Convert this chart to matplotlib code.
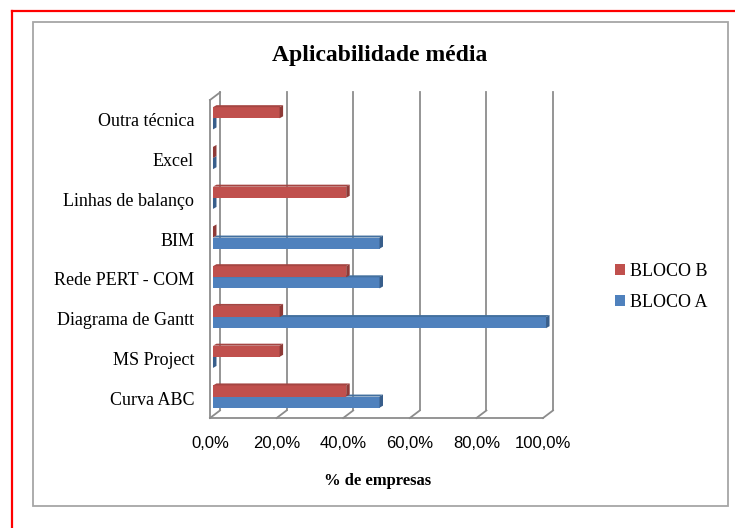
import matplotlib.pyplot as plt
from matplotlib.patches import Polygon, Patch, Rectangle
from matplotlib.lines import Line2D

# data, bottom to top as in the chart
categories = ["Curva ABC", "MS Project", "Diagrama de Gantt", "Rede PERT - COM",
              "BIM", "Linhas de balanço", "Excel", "Outra técnica"]
bloco_a = [50, 0, 100, 50, 50, 0, 0, 0]
bloco_b = [40, 20, 20, 40, 0, 40, 0, 20]
x_ticks = [0, 20, 40, 60, 80, 100]
x_tick_labels = ["0,0%", "20,0%", "40,0%", "60,0%", "80,0%", "100,0%"]

red = "#C0504D"
red_side = "#8E3A37"
red_top = "#A54542"
blue = "#4F81BD"
blue_side = "#385E8B"
blue_top = "#43709F"
grid_c = "#8C8C8C"

serif = "Liberation Serif"

fig = plt.figure(figsize=(7.35, 5.28), dpi=100)
ax = fig.add_axes([0.2857, 0.2083, 0.4531, 0.6023])

# 3D offsets in data units (x: %, y: category)
bx, by = 3.0, 0.19      # back wall
fx, fy = 0.9, 0.06      # bar front face behind the front plane
dx, dy = 1.05, 0.05     # bar depth
h = 0.28

ymin, ymax = -0.5, len(categories) - 0.5

# walls / floor
for x in x_ticks:
    ax.plot([x + bx, x + bx], [ymin + by, ymax + by], color=grid_c, lw=1.3,
            clip_on=False, zorder=0)
    ax.plot([x, x + bx], [ymin, ymin + by], color=grid_c, lw=1.3,
            clip_on=False, zorder=0)
ax.plot([0, 100], [ymin, ymin], color=grid_c, lw=1.3, clip_on=False, zorder=0)
ax.plot([0, 0], [ymin, ymax], color=grid_c, lw=1.3, clip_on=False, zorder=0)
ax.plot([0, bx], [ymax, ymax + by], color=grid_c, lw=1.3, clip_on=False, zorder=0)


def bar3d(y0, w, front, side, top, z):
    y1 = y0 + h
    ax.barh(y0, w, height=h, left=fx, align="edge", color=front, zorder=z,
            linewidth=0, clip_on=False)
    ax.add_patch(Polygon([(fx, y1), (fx + w, y1), (fx + w + dx, y1 + dy), (fx + dx, y1 + dy)],
                         closed=True, facecolor=top, edgecolor="none", zorder=z,
                         clip_on=False))
    ax.add_patch(Polygon([(fx + w, y0), (fx + w, y1), (fx + w + dx, y1 + dy), (fx + w + dx, y0 + dy)],
                         closed=True, facecolor=side, edgecolor="none", zorder=z,
                         clip_on=False))


for i in range(len(categories)):
    c = i + fy
    bar3d(c - 0.30, bloco_a[i], blue, blue_side, blue_top, 2 + i * 0.01)
    bar3d(c - 0.02, bloco_b[i], red, red_side, red_top, 3 + i * 0.01)

ax.set_xlim(0, 100)
ax.set_ylim(ymin, ymax)
ax.set_xticks(x_ticks)
ax.set_xticklabels(x_tick_labels, fontsize=12, family="Liberation Sans")
ax.set_yticks(range(len(categories)))
ax.set_yticklabels(categories, fontsize=13, family=serif)
ax.tick_params(axis="x", length=0, pad=13)
ax.tick_params(axis="y", length=0, pad=11.5)
for s in ax.spines.values():
    s.set_visible(False)
ax.patch.set_alpha(0)

fig.text(380 / 735, 1 - 56 / 528, "Aplicabilidade média", ha="center", va="center",
         fontsize=17, fontweight="bold", family=serif)
fig.text(378 / 735, 1 - 481 / 528, "% de empresas", ha="center", va="center",
         fontsize=12, fontweight="bold", family=serif)

handles = [Patch(facecolor=red, label="BLOCO B"), Patch(facecolor=blue, label="BLOCO A")]
fig.legend(handles=handles, loc="center left", bbox_to_anchor=(615 / 735, 1 - 287 / 528),
           frameon=False, prop={"family": serif, "size": 13}, handlelength=0.55,
           handleheight=0.55, handletextpad=0.3, labelspacing=0.75, borderpad=0,
           borderaxespad=0)

# chart frame and outer red border
fig.add_artist(Rectangle((33 / 735, 1 - 506 / 528), 695 / 735, 484 / 528,
                         transform=fig.transFigure, fill=False, edgecolor="#A6A6A6", lw=1.3))
fig.add_artist(Line2D([12 / 735, 1], [1 - 10.5 / 528, 1 - 10.5 / 528],
                      transform=fig.transFigure, color="red", lw=1.6))
fig.add_artist(Line2D([12 / 735, 12 / 735], [0, 1 - 10.5 / 528],
                      transform=fig.transFigure, color="red", lw=1.6))

fig.savefig("out.png", dpi=100)
